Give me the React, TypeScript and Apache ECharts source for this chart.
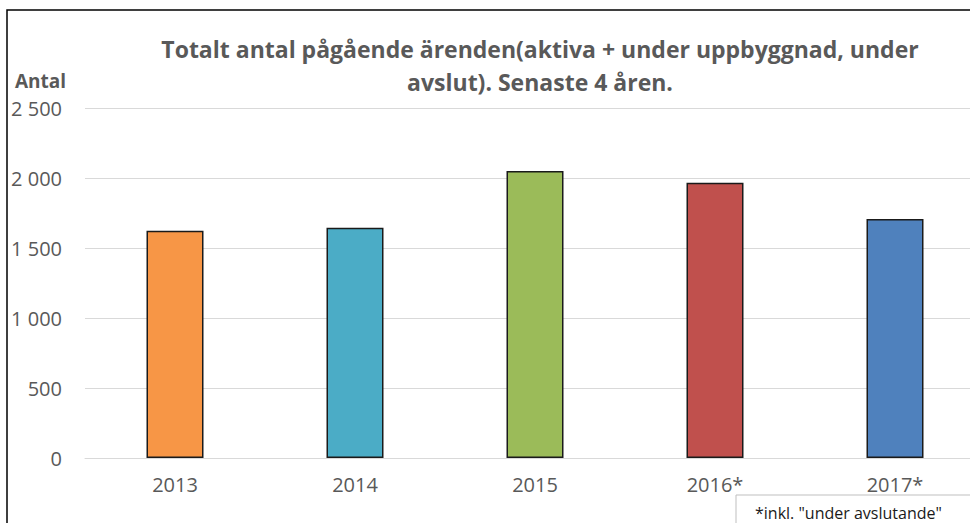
import React, { useEffect, useRef } from "react";
import * as echarts from "echarts";

const categories = ["2013", "2014", "2015", "2016*", "2017*"];
const values = [1623, 1645, 2050, 1966, 1707];
const barColors = ["#F79646", "#4BACC6", "#9BBB59", "#C0504D", "#4F81BD"];
const titleLines = [
  "Totalt antal pågående ärenden(aktiva + under uppbyggnad, under",
  "avslut). Senaste 4 åren.",
];
const yAxisName = "Antal";
const noteText = '*inkl. "under avslutande"';

const FONT = "'Open Sans', 'DejaVu Sans', sans-serif";

export default function App() {
  const ref = useRef<HTMLDivElement>(null);
  useEffect(() => {
    if (!ref.current) return;
    const chart = echarts.init(ref.current, null, { renderer: "svg" });
    chart.setOption({
      animation: false,
      backgroundColor: "#ffffff",
      textStyle: { fontFamily: FONT },
      grid: {
        left: 85,
        top: 108,
        width: 900,
        height: 350,
        containLabel: false,
        outerBoundsMode: "none",
      },
      xAxis: {
        type: "category",
        data: categories,
        axisLine: { show: true, lineStyle: { color: "#d9d9d9", width: 1 } },
        axisTick: { show: false },
        axisLabel: { color: "#595959", fontSize: 20, fontFamily: FONT, margin: 16 },
      },
      yAxis: {
        type: "value",
        min: 0,
        max: 2500,
        interval: 500,
        axisLine: { show: false },
        axisTick: { show: false },
        splitLine: { lineStyle: { color: "#d9d9d9", width: 1 } },
        axisLabel: {
          color: "#595959",
          fontSize: 20,
          fontFamily: FONT,
          margin: 23,
          formatter: (v: number) => String(v).replace(/\B(?=(\d{3})+(?!\d))/g, " "),
        },
      },
      series: [
        {
          type: "bar",
          barWidth: 57,
          data: values.map((v, i) => ({
            value: v,
            itemStyle: { color: barColors[i], borderColor: "#1a1a1a", borderWidth: 1.5 },
          })),
        },
      ],
      graphic: [
        {
          type: "rect",
          shape: { x: 7, y: 10, width: 1100, height: 700 },
          style: { fill: "none", stroke: "#000000", lineWidth: 1.5 },
          z: 100,
        },
        {
          type: "text",
          x: 540,
          y: 32,
          style: {
            text: titleLines.join("\n"),
            fill: "#595959",
            font: `bold 23px ${FONT}`,
            textAlign: "center",
            textVerticalAlign: "top",
            lineHeight: 33,
          },
          z: 100,
        },
        {
          type: "text",
          x: 15,
          y: 81,
          style: {
            text: yAxisName,
            fill: "#595959",
            font: `bold 19px ${FONT}`,
            textAlign: "left",
            textVerticalAlign: "middle",
          },
          z: 100,
        },
        {
          type: "rect",
          shape: { x: 736, y: 495, width: 400, height: 100 },
          style: { fill: "#ffffff", stroke: "#bfbfbf", lineWidth: 1 },
          z: 100,
        },
        {
          type: "text",
          x: 755,
          y: 513,
          style: {
            text: noteText,
            fill: "#1a1a1a",
            font: `16px ${FONT}`,
            textAlign: "left",
            textVerticalAlign: "middle",
          },
          z: 101,
        },
      ],
    });
    return () => chart.dispose();
  }, []);
  return (
    <div
      ref={ref}
      style={{ position: "fixed", left: 0, top: 0, width: 970, height: 523, background: "#fff" }}
    />
  );
}
